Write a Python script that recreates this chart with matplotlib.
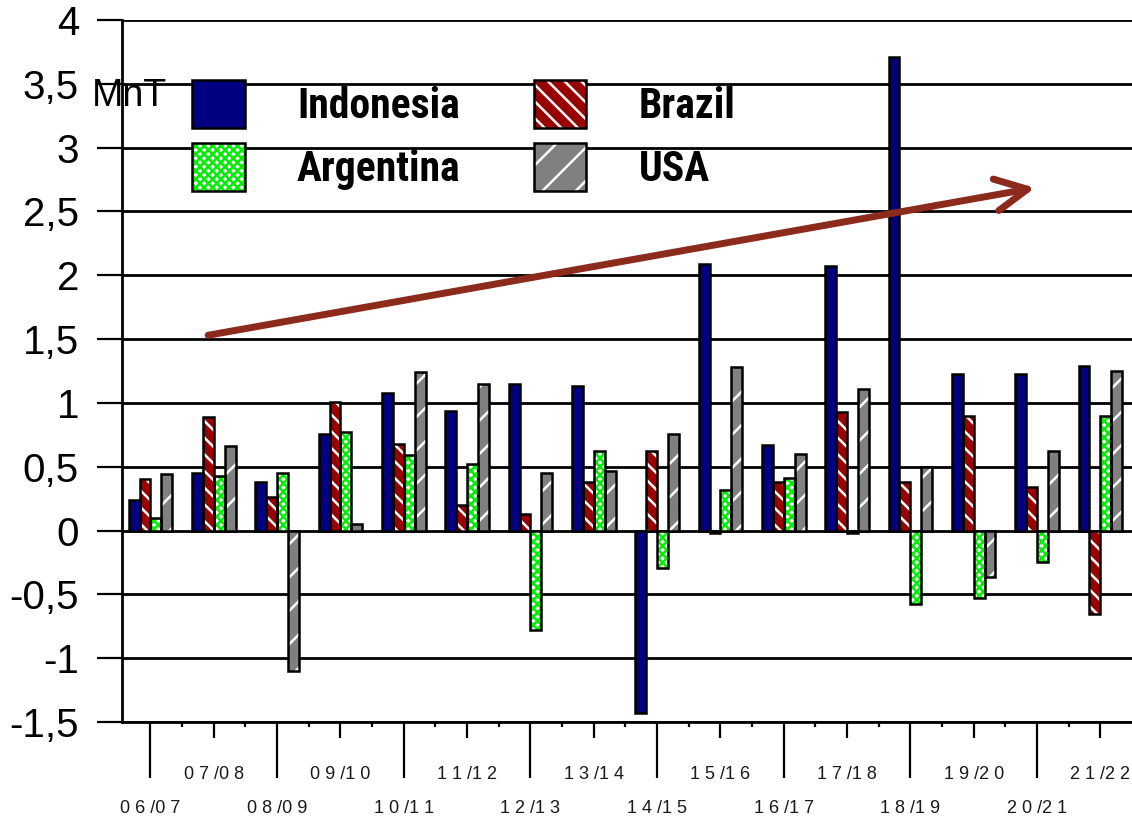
import numpy as np
import matplotlib
matplotlib.use("Agg")
import matplotlib.pyplot as plt
from matplotlib.patches import Patch
from matplotlib.legend_handler import HandlerTuple

plt.rcParams['font.family'] = ['Liberation Sans', 'DejaVu Sans']
plt.rcParams['hatch.linewidth'] = 1.8

seasons = ['06/07', '07/08', '08/09', '09/10', '10/11', '11/12', '12/13', '13/14',
           '14/15', '15/16', '16/17', '17/18', '18/19', '19/20', '20/21', '21/22']

indonesia = [0.24, 0.45, 0.38, 0.76, 1.08, 0.94, 1.15, 1.13,
             -1.43, 2.09, 0.67, 2.07, 3.71, 1.23, 1.23, 1.29]
brazil = [0.40, 0.89, 0.26, 1.01, 0.68, 0.20, 0.13, 0.38,
          0.62, -0.02, 0.38, 0.93, 0.38, 0.90, 0.34, -0.65]
argentina = [0.10, 0.43, 0.45, 0.77, 0.59, 0.52, -0.78, 0.62,
             -0.29, 0.32, 0.41, -0.02, -0.575, -0.53, -0.245, 0.90]
usa = [0.44, 0.66, -1.10, 0.05, 1.24, 1.15, 0.45, 0.47,
       0.76, 1.28, 0.60, 1.11, 0.50, -0.365, 0.62, 1.25]

yticks = [-1.5, -1, -0.5, 0, 0.5, 1, 1.5, 2, 2.5, 3, 3.5, 4]
ytick_labels = ['-1,5', '-1', '-0,5', '0', '0,5', '1', '1,5', '2', '2,5', '3', '3,5', '4']

# trend arrow (season index, MnT)
trend_start = (0.91, 1.53)
trend_end = (13.97, 2.685)

series = [
    ('Indonesia', indonesia, '#000080', '#000080', ''),
    ('Brazil', brazil, '#990000', 'white', '\\\\'),
    ('Argentina', argentina, 'white', '#00ee00', 'xxxx'),
    ('USA', usa, '#808080', 'white', '/'),
]

fig = plt.figure(figsize=(11.32, 8.24), dpi=100)
ax = fig.add_axes([122 / 1132, 102 / 824, 1010 / 1132, 702 / 824])

x = np.arange(len(seasons))
w = 0.172
handles = {}
for i, (name, vals, fc, hc, hatch) in enumerate(series):
    pos = x + (i - 1.5) * w
    ax.bar(pos, vals, w, color=fc, edgecolor=hc, hatch=hatch, linewidth=0, zorder=3)
    ax.bar(pos, vals, w, fill=False, edgecolor='black', linewidth=1.8, zorder=4)
    handles[name] = (Patch(facecolor=fc, edgecolor=hc, hatch=hatch, linewidth=0),
                     Patch(fill=False, edgecolor='black', linewidth=1.8))

ax.annotate('', xy=trend_end, xytext=trend_start,
            arrowprops=dict(arrowstyle='->,head_length=2.3,head_width=1.15',
                            lw=5, color='#8c2a1c', shrinkA=0, shrinkB=0),
            zorder=5)

ax.set_xlim(-0.45, 15.5)
ax.set_ylim(-1.5, 4)
ax.set_yticks(yticks)
ax.set_yticklabels(ytick_labels)
ax.tick_params(axis='y', direction='out', length=18, width=1.6, pad=13, labelsize=29)
ax.yaxis.grid(True, color='black', linewidth=2)
ax.set_axisbelow(True)

for side in ['top', 'right']:
    ax.spines[side].set_visible(False)
for side in ['left', 'bottom']:
    ax.spines[side].set_linewidth(2)

def spaced(s):
    a, b = s.split('/')
    return ' '.join(a) + ' /' + ' '.join(b)

# even seasons: long ticks, lower label row
ax.set_xticks(x[::2])
ax.set_xticklabels([spaced(s) for s in seasons[::2]])
ax.tick_params(axis='x', which='major', direction='out', length=40, width=1.6,
               pad=16, labelsize=13)
# odd seasons: short ticks, upper label row
ax.set_xticks(x[1::2], minor=True)
ax.set_xticklabels([spaced(s) for s in seasons[1::2]], minor=True)
ax.tick_params(axis='x', which='minor', direction='out', length=11.5, width=1.6,
               pad=20, labelsize=13)
for lab in ax.get_xticklabels() + ax.get_xticklabels(minor=True):
    lab.set_color('#1a1a1a')

# small marks between seasons
sec = ax.secondary_xaxis('bottom')
sec.set_xticks(np.arange(len(seasons) - 1) + 0.5)
sec.set_xticklabels([])
sec.tick_params(direction='out', length=3.5, width=1.6)
sec.spines['bottom'].set_visible(False)

fig.text(92 / 1132, 1 - 106 / 824, 'MnT', fontsize=27, ha='left', va='baseline')

order = ['Indonesia', 'Argentina', 'Brazil', 'USA']
fig.legend([handles[n] for n in order], order, ncol=2, frameon=False,
           loc='upper left', bbox_to_anchor=(192 / 1132, 1 - 80 / 824),
           borderpad=0, borderaxespad=0, handlelength=1.27, handleheight=1.4,
           handletextpad=1.25, columnspacing=1.75, labelspacing=0.36,
           handler_map={tuple: HandlerTuple(ndivide=1, pad=0)},
           prop={'family': ['Liberation Sans Narrow', 'Roboto Condensed', 'DejaVu Sans'],
                 'stretch': 'condensed', 'weight': 'bold', 'size': 30})

fig.savefig('out.png', dpi=100)
